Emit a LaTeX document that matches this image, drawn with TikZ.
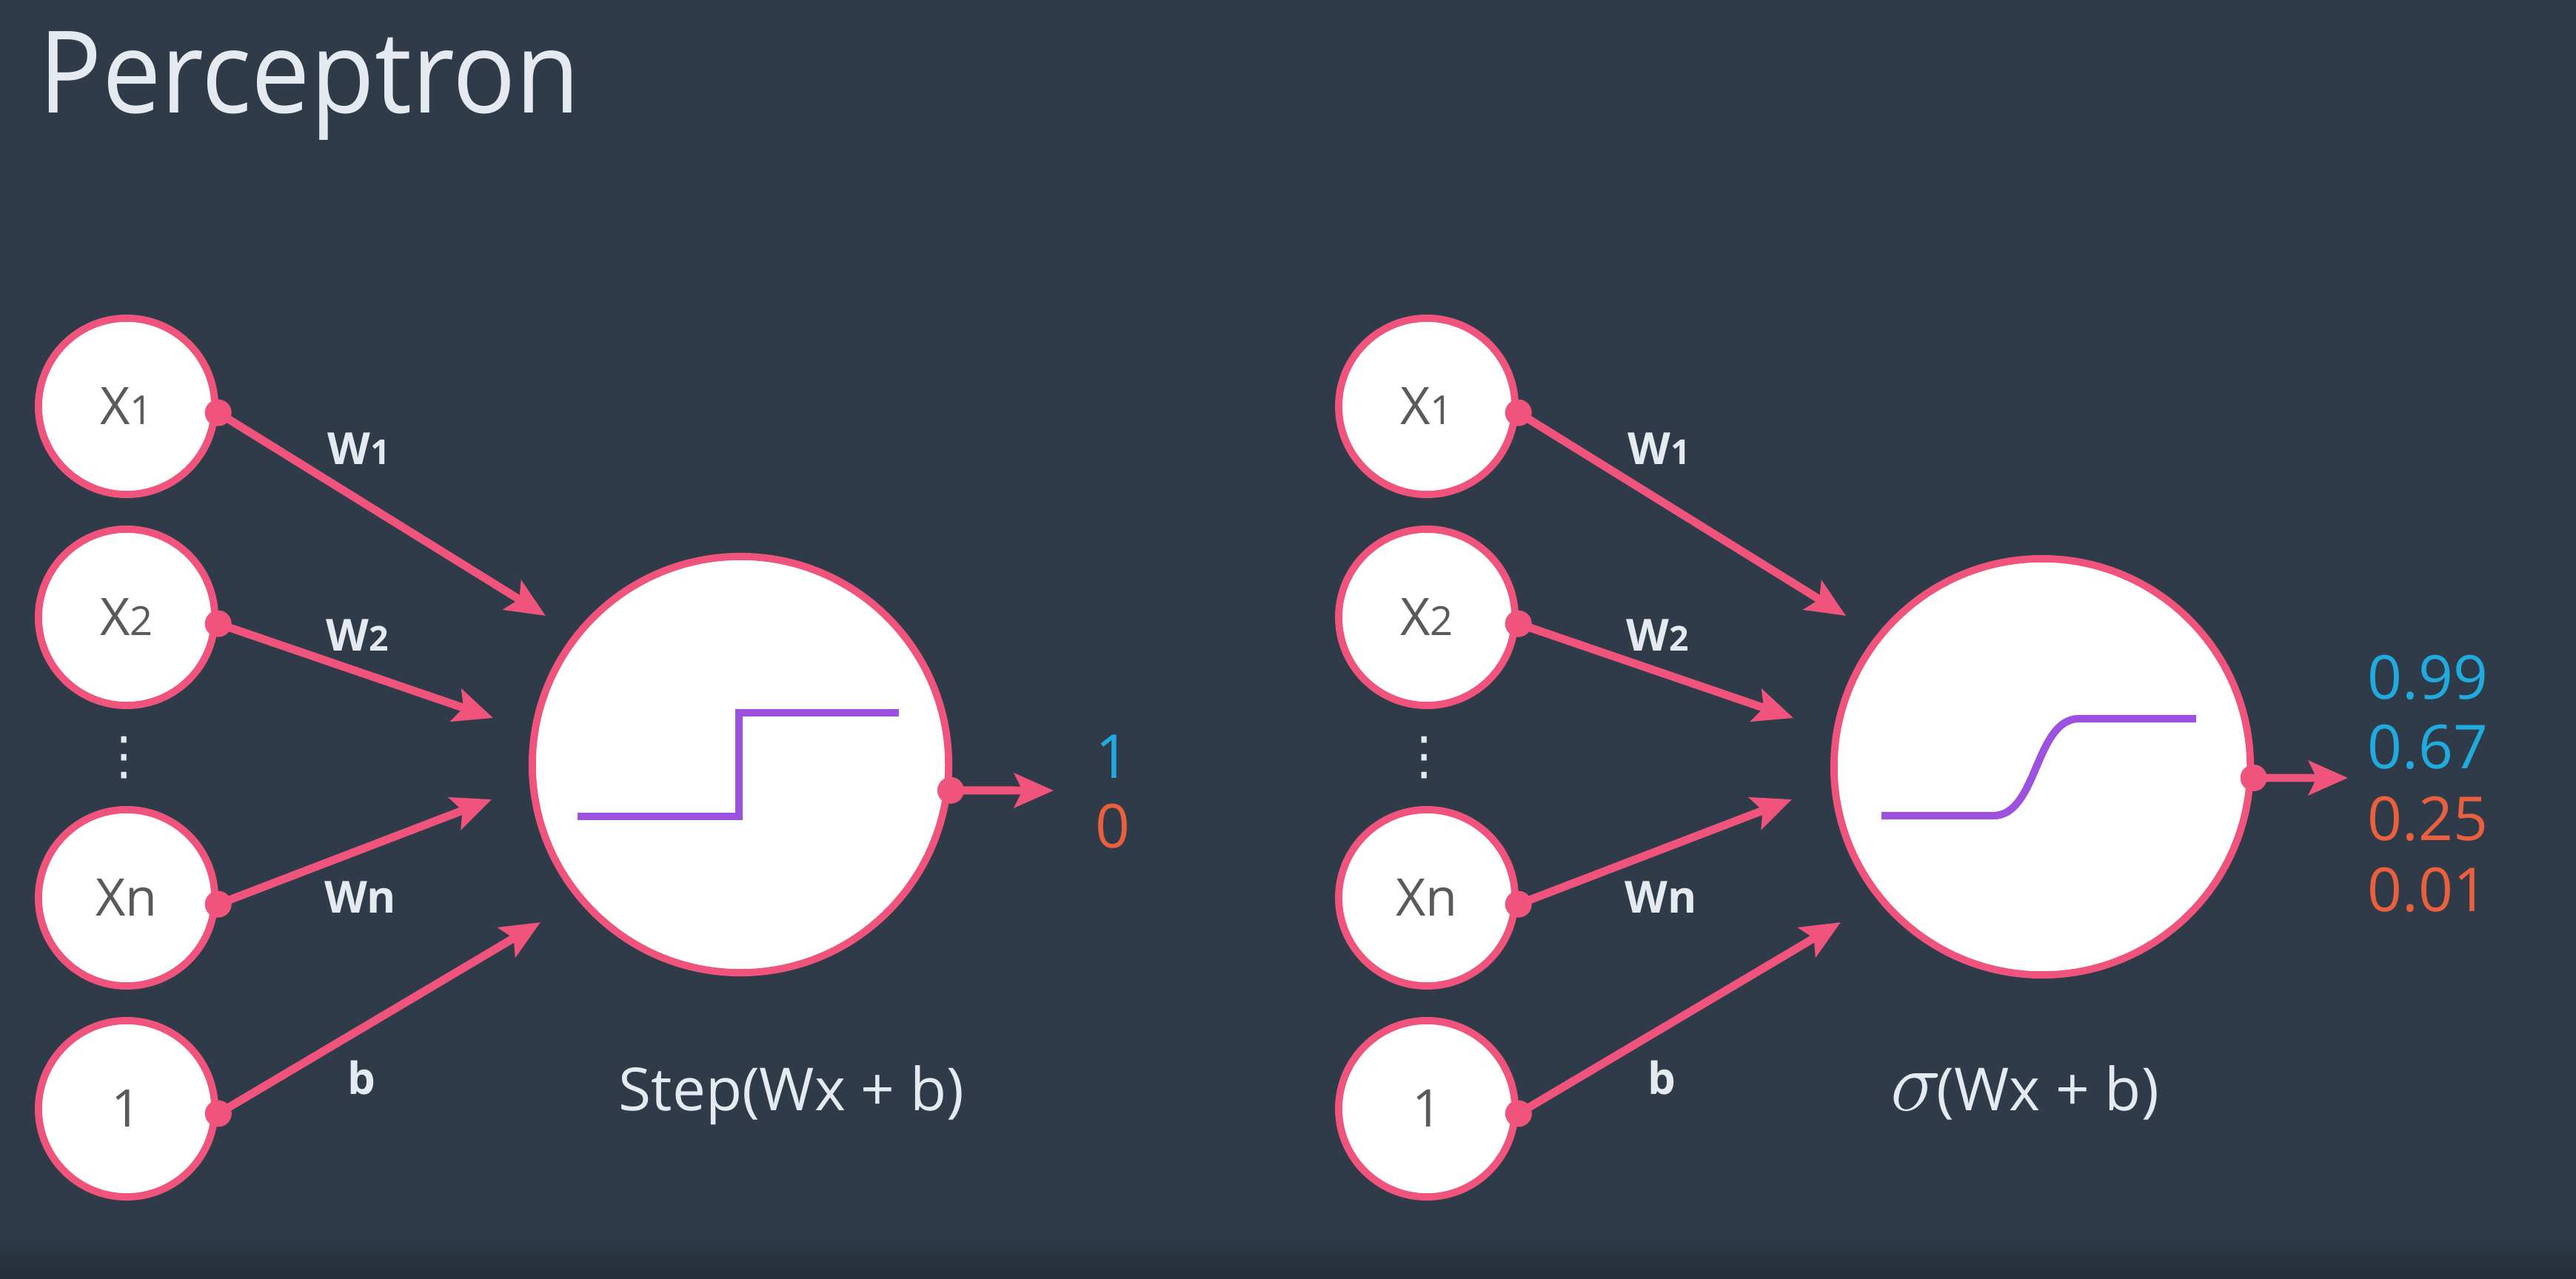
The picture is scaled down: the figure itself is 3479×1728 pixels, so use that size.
\RequirePackage{fix-cm}
\documentclass[tikz,border=0pt]{standalone}
\usepackage{fontspec}
\setmainfont{Open Sans}
\newfontfamily\titlefont[FakeStretch=0.92]{Open Sans}
\newfontfamily\symfont{DejaVu Sans}
\usetikzlibrary{arrows.meta}
\definecolor{pnbg}{RGB}{47,59,73}
\definecolor{pnbgdark}{RGB}{36,45,57}
\definecolor{pnpink}{RGB}{240,84,124}
\definecolor{pnpurple}{RGB}{156,82,222}
\definecolor{pncyan}{RGB}{32,170,222}
\definecolor{pnorange}{RGB}{234,96,62}
\definecolor{pngray}{RGB}{90,90,90}
\definecolor{pnlight}{RGB}{228,234,240}
\newcommand{\xsub}[1]{{\fontsize{15.4}{16}\selectfont #1}}
\newcommand{\wsub}[1]{{\fontsize{13.2}{14}\selectfont #1}}

\begin{document}
\begin{tikzpicture}[x=0.01cm, y=-0.01cm,
    inp/.style={circle, draw=pnpink, fill=white, line width=2.8pt, minimum size=2.38cm, inner sep=0pt, text=pngray, font=\fontsize{19.9}{20}\selectfont},
    unit/.style={circle, draw=pnpink, fill=white, line width=2.8pt, minimum size=5.62cm, inner sep=0pt},
    wire/.style={-{Stealth[length=15pt,width=13pt,inset=3pt]}, line width=3.1pt, draw=pnpink},
    curve/.style={line width=2.9pt, draw=pnpurple},
    vdot/.style={inner sep=0pt, text=pnlight, font=\symfont\fontsize{20}{20}\selectfont},
    wlabel/.style={anchor=base west, inner sep=0pt, text=pnlight, font=\bfseries\fontsize{17}{18}\selectfont},
    fnlabel/.style={anchor=base west, inner sep=0pt, text=pnlight, font=\fontsize{22.8}{23}\selectfont},
    outval/.style={inner sep=0pt, font=\fontsize{23.3}{24}\selectfont}
  ]
  \fill[pnbg] (0,0) rectangle (3479,1728);
  \shade[top color=pnbg, bottom color=pnbgdark] (0,1665) rectangle (3479,1728);

  \node[anchor=base west, inner sep=0pt, text=pnlight, font=\titlefont\fontsize{43.8}{44}\selectfont] (title) at (52,153) {Perceptron};

  % step perceptron
  \node[inp] (lx1) at (171,549) {X\xsub{1}};
  \node[inp] (lx2) at (171,834) {X\xsub{2}};
  \node[vdot] (ldots) at (168,1024) {⋮};
  \node[inp] (lxn) at (171,1213) {Xn};
  \node[inp] (lb) at (171,1498) {1};
  \node[unit] (stepunit) at (1000,1033) {};
  \draw[curve, line join=miter] (780,1103) -- (998,1103) -- (998,963) -- (1214,963);

  \coordinate (ltip1) at (737,832);
  \coordinate (ltip2) at (666,970);
  \coordinate (ltip3) at (664,1080);
  \coordinate (ltip4) at (730,1246);
  \coordinate (lout) at (1423,1068);
  \draw[wire] (lx1.-4) -- (ltip1);
  \draw[wire] (lx2.-4) -- (ltip2);
  \draw[wire] (lxn.-4) -- (ltip3);
  \draw[wire] (lb.-3) -- (ltip4);
  \draw[wire] (stepunit.-7) -- (lout);
  \foreach \n/\a in {lx1/-4, lx2/-4, lxn/-4, lb/-3, stepunit/-7}
    \fill[pnpink] (\n.\a) circle (0.18cm);

  \node[wlabel] (lw1) at (442,628) {W\wsub{1}};
  \node[wlabel] (lw2) at (440,879) {W\wsub{2}};
  \node[wlabel] (lwn) at (438,1233) {Wn};
  \node[wlabel] (lwb) at (469,1478) {b};
  \node[fnlabel] (stepfn) at (835,1500) {Step(Wx + b)};
  \node[outval, text=pncyan] (lone) at (1503,1022) {1};
  \node[outval, text=pnorange] (lzero) at (1503,1116) {0};

  % sigmoid perceptron
  \node[inp] (rx1) at (1927,549) {X\xsub{1}};
  \node[inp] (rx2) at (1927,834) {X\xsub{2}};
  \node[vdot] (rdots) at (1924,1024) {⋮};
  \node[inp] (rxn) at (1927,1213) {Xn};
  \node[inp] (rb) at (1927,1498) {1};
  \node[unit] (sigunit) at (2758,1036) {};
  \draw[curve] (2541,1102) -- (2692,1102) .. controls (2752,1102) and (2748,971) .. (2808,971) -- (2966,971);

  \coordinate (rtip1) at (2493,832);
  \coordinate (rtip2) at (2422,970);
  \coordinate (rtip3) at (2420,1080);
  \coordinate (rtip4) at (2486,1246);
  \coordinate (rout) at (3171,1051);
  \draw[wire] (rx1.-4) -- (rtip1);
  \draw[wire] (rx2.-4) -- (rtip2);
  \draw[wire] (rxn.-4) -- (rtip3);
  \draw[wire] (rb.-3) -- (rtip4);
  \draw[wire] (sigunit.-3) -- (rout);
  \foreach \n/\a in {rx1/-4, rx2/-4, rxn/-4, rb/-3, sigunit/-3}
    \fill[pnpink] (\n.\a) circle (0.18cm);

  \node[wlabel] (rw1) at (2198,628) {W\wsub{1}};
  \node[wlabel] (rw2) at (2196,879) {W\wsub{2}};
  \node[wlabel] (rwn) at (2194,1233) {Wn};
  \node[wlabel] (rwb) at (2225,1478) {b};
  \node[fnlabel] (sigfn) at (2553,1500) {{\fontsize{33}{33}\selectfont$\sigma$}\kern-2pt(Wx + b)};
  \node[outval, anchor=west, text=pncyan] (rv1) at (3197,915) {0.99};
  \node[outval, anchor=west, text=pncyan] (rv2) at (3197,1009) {0.67};
  \node[outval, anchor=west, text=pnorange] (rv3) at (3197,1106) {0.25};
  \node[outval, anchor=west, text=pnorange] (rv4) at (3197,1202) {0.01};
\end{tikzpicture}
\end{document}
